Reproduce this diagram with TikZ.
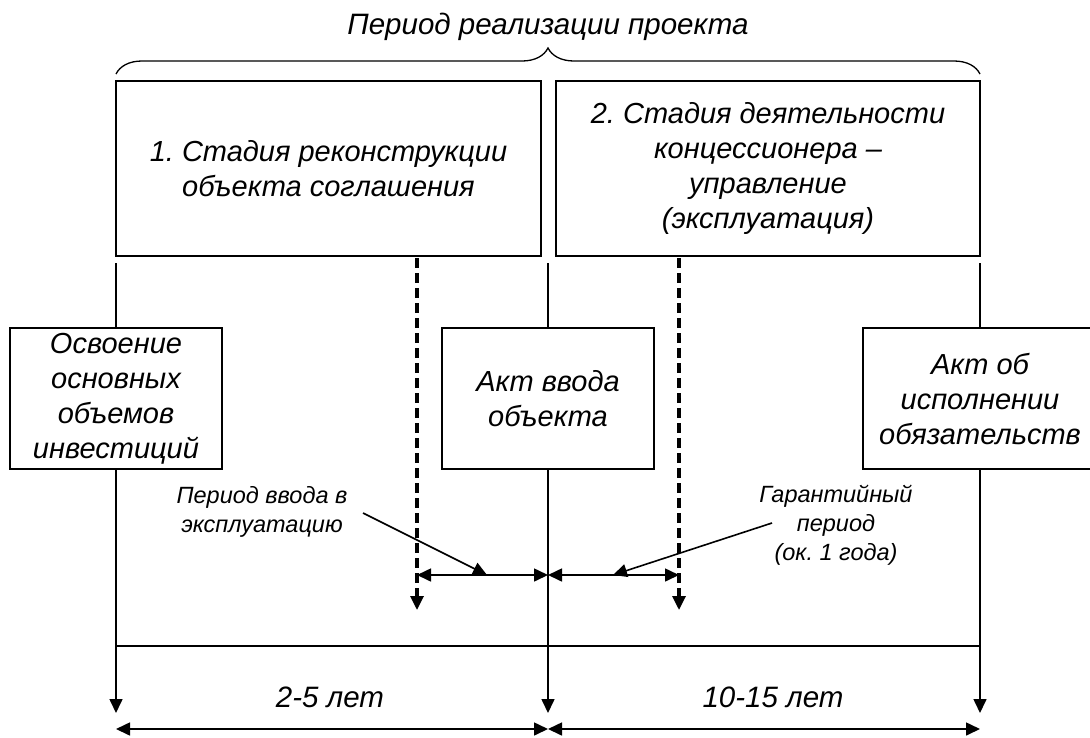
\documentclass[tikz,border=0pt]{standalone}
\usepackage{fontspec}
\setmainfont{Liberation Sans}
\usetikzlibrary{positioning,arrows.meta,decorations.pathreplacing}
\frenchspacing
\tikzstyle{stagestyle}=[shape=rectangle,draw,line width=1.5pt,align=center,inner sep=0pt,outer sep=0pt,font=\fontsize{29}{35}\selectfont\itshape]
\tikzstyle{notestyle}=[align=center,font=\fontsize{23.5}{29}\selectfont\itshape]
\tikzstyle{termstyle}=[font=\fontsize{29.5}{32}\selectfont\itshape]
\tikzstyle{timestyle}=[line width=1.6pt]
\tikzstyle{dashstyle}=[line width=3.2pt,dash pattern=on 10pt off 5pt]
\newcommand{\ptbox}[5]{ \node [style=stagestyle,minimum width=#3pt,minimum height=#4pt] (#1) at (#2) {#5}; }
\newcommand{\pttimeline}[3]{ \draw [style=timestyle] (#1) -- (#2.north); \draw [style=timestyle,->] (#2.south) -- (#3); }

\begin{document}
\begin{tikzpicture}[x=1pt,y=-1pt,>={Triangle[length=14pt,width=13pt]}]
\useasboundingbox (0,0) rectangle (1090,737);

\node [style=termstyle] (title) at (548,27) {Период реализации проекта}; %
\coordinate (braceL) at (116,74); %
\coordinate (braceR) at (980,74); %
\draw [line width=1.3pt,decorate,decoration={brace,amplitude=26pt}] (braceL) -- (braceR); %

\ptbox{stageone}{328.5,168.5}{425}{175}{1. Стадия реконструкции\\объекта соглашения} %
\ptbox{stagetwo}{768,168.5}{424}{175}{2. Стадия деятельности\\концессионера --\\управление\\(эксплуатация)} %
\ptbox{invest}{116,398.5}{212}{141}{Освоение\\основных\\объемов\\инвестиций} %
\ptbox{actin}{548,398.5}{212}{141}{Акт ввода\\объекта} %
\ptbox{actfin}{980,398.5}{234}{141}{Акт об\\исполнении\\обязательств} %

\coordinate (tone) at (116,263); %
\coordinate (ttwo) at (548,263); %
\coordinate (tthree) at (980,263); %
\coordinate (eone) at (116,713); %
\coordinate (etwo) at (548,713); %
\coordinate (ethree) at (980,713); %
\pttimeline{tone}{invest}{eone} %
\pttimeline{ttwo}{actin}{etwo} %
\pttimeline{tthree}{actfin}{ethree} %

\coordinate (hone) at (116,646); %
\coordinate (hthree) at (980,646); %
\draw [timestyle] (hone) -- (hthree); %

\coordinate (done) at (417,258); %
\coordinate (doneend) at (417,610); %
\coordinate (dtwo) at (679,258); %
\coordinate (dtwoend) at (679,610); %
\draw [dashstyle,->] (done) -- (doneend); %
\draw [dashstyle,->] (dtwo) -- (dtwoend); %

\coordinate (mone) at (417,575); %
\coordinate (mtwo) at (548,575); %
\coordinate (mthree) at (679,575); %
\draw [timestyle,<->] (mone) -- (mtwo); %
\draw [timestyle,<->] (mtwo) -- (mthree); %

\node [style=notestyle] (noteinput) at (262,512) {Период ввода в\\эксплуатацию}; %
\node [style=notestyle] (noteguar) at (836,525) {Гарантийный\\период\\(ок. 1 года)}; %
\coordinate (pinput) at (363,513); %
\coordinate (pinputtip) at (487,575); %
\coordinate (pguar) at (772,523); %
\coordinate (pguartip) at (613,575); %
\draw [timestyle,->] (pinput) -- (pinputtip); %
\draw [timestyle,->] (pguar) -- (pguartip); %

\coordinate (bone) at (116,729); %
\coordinate (btwo) at (548,729); %
\coordinate (bthree) at (980,729); %
\draw [timestyle,<->] (bone) -- (btwo); %
\draw [timestyle,<->] (btwo) -- (bthree); %
\node [style=termstyle] (termone) at (330,697) {2-5 лет}; %
\node [style=termstyle] (termtwo) at (773,697) {10-15 лет}; %

\end{tikzpicture}
\end{document}
